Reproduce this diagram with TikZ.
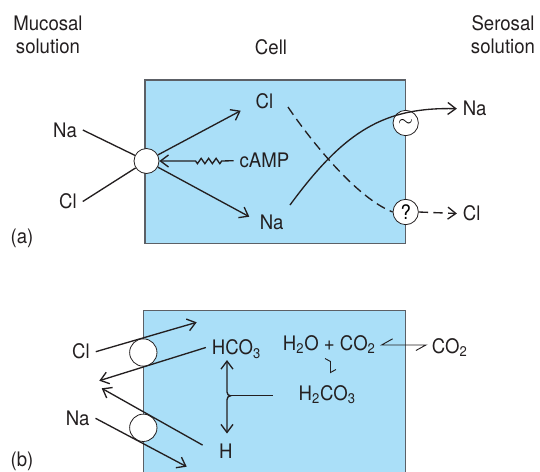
\documentclass[tikz,border=0pt]{standalone}
\usepackage{fontspec}
\setmainfont{TeX Gyre Heros}[FakeStretch=0.93]
\usepackage{tikz}
\usetikzlibrary{arrows.meta,decorations.pathmorphing}
\definecolor{ink}{HTML}{231F20}
\definecolor{edge}{HTML}{5C6066}
\definecolor{cellblue}{HTML}{AADFF8}
\tikzset{
  font=\fontsize{15}{17}\selectfont,
  >={Straight Barb[length=6pt,width=9pt]},
  cellbox/.style={fill=cellblue, draw=edge, line width=0.9pt},
  head/.style={align=center, inner sep=0pt, text=ink},
  ion/.style={text=ink, inner sep=0pt, outer sep=4.5pt, text height=10.8pt, text depth=0pt},
  gate/.style={circle, draw=ink, fill=white, line width=0.6pt, inner sep=0pt, minimum size=19pt},
  flow/.style={->, draw=ink, line width=1pt},
  plain/.style={draw=ink, line width=1pt},
  dashflow/.style={draw=ink, line width=1pt, dash pattern=on 7pt off 4pt},
  eqline/.style={draw=ink, line width=0.7pt}
}
\newcommand{\sub}[1]{\textsubscript{#1}}

\begin{document}
\begin{tikzpicture}[x=0.75pt,y=-0.75pt]
  \useasboundingbox (0,0) rectangle (540,472);

  % headings
  \node[head] (muc)  at (48,35)  {Mucosal\\solution};
  \node[head] (cell) at (271,47) {Cell};
  \node[head] (ser)  at (503,35) {Serosal\\solution};

  % ---- (a) ----
  \path[cellbox] (145,80) rectangle (405.7,243.7);
  \node[ion] at (22,236) {(a)};

  \node[gate, minimum size=18.75pt] (ent) at (146.5,161) {};
  \node[gate] (pump) at (405.7,123) {\Large$\sim$};
  \node[gate] (qm)   at (405.7,212) {?};

  \node[ion] (naM)   at (65,130)    {Na};
  \node[ion] (clM)   at (68,201.5)  {Cl};
  \node[ion] (clIn)  at (264.5,100.8) {Cl};
  \node[ion] (naIn)  at (271.7,222) {Na};
  \node[ion] (camp)  at (264.5,160.7) {cAMP};
  \node[ion] (naOut) at (474.7,108.7) {Na};
  \node[ion] (clOut) at (471.7,213.5) {Cl};

  \coordinate (clTip) at (240.7,110.7);
  \coordinate (naTip) at (249.3,216.7);
  \coordinate (zzA)   at (193,161);
  \coordinate (zzB)   at (221.7,161);
  \coordinate (naFrom) at (290,205);
  \coordinate (clFrom) at (288,107);

  \draw[plain] (naM.east) -- (ent);
  \draw[plain] (clM.east) -- (ent);
  \draw[flow] (ent) -- (clTip);
  \draw[flow] (ent) -- (naTip);
  \draw[flow] (camp.west) -- (zzB)
    decorate[decoration={zigzag, segment length=5.6pt, amplitude=2pt}] {-- (zzA)}
    -- (ent.east);

  \draw[flow] (naFrom) .. controls (345,130) and (385,107) .. (naOut.west);
  \draw[dashflow] (clFrom) .. controls (302,128) and (352,196) .. (qm.west);
  \draw[dashflow, ->] (qm.east) -- (clOut.west);

  % ---- (b) ----
  \path[cellbox] (143.3,480) -- (143.3,310.7) -- (405.7,310.7) -- (405.7,480);
  \node[ion] at (22,459) {(b)};

  \node[gate, minimum size=20.5pt] (antA) at (143.3,352.5) {};
  \node[gate, minimum size=20.5pt] (antB) at (143.3,427.8) {};

  \node[ion] (clB)   at (81,351.7)    {Cl};
  \node[ion] (naB)   at (77.7,418.3)  {Na};
  \node[ion] (hco)   at (236.4,347.5) {HCO\sub{3}};
  \node[ion] (hB)    at (225.8,451)   {H};
  \node[ion] (wat)   at (329.3,343.3) {H\sub{2}O + CO\sub{2}};
  \node[ion] (carb)  at (327.2,393)   {H\sub{2}CO\sub{3}};
  \node[ion] (co2)   at (449.7,346)   {CO\sub{2}};

  \coordinate (clBTip)  at (196.7,322.3);
  \coordinate (hcoTip)  at (99.3,380.7);
  \coordinate (hTip)    at (101.7,388.3);
  \coordinate (naBTip)  at (186.7,466.7);

  \draw[flow] (clB.east) -- (clBTip);
  \draw[flow] (hco.west) -- (hcoTip);
  \draw[flow, shorten <=9pt] (hB.west) -- (hTip);
  \draw[flow] (naB.east) -- (naBTip);

  % carbonic acid split
  \coordinate (spTop) at (227,360);
  \coordinate (spBot) at (227,433.5);
  \coordinate (spEnd) at (272.5,395.8);
  \draw[flow, <->] (spTop) -- (227,392) to[out=-90,in=180] (230.5,395.8)
    to[out=180,in=90] (227,399.6) -- (spBot);
  \draw[eqline] (230.5,395.8) -- (spEnd);

  % equilibria
  \draw[eqline] ([shift={(11,-4.5)}]wat.east) -- (wat.east |- 0,345)
    -- (co2.west |- 0,345) -- ([shift={(-10,5.5)}]co2.west |- 0,345);
  \draw[eqline] (325,358.5) -- (330.5,361.5) -- (330.5,372.5) -- (336,369.5);
\end{tikzpicture}
\end{document}
